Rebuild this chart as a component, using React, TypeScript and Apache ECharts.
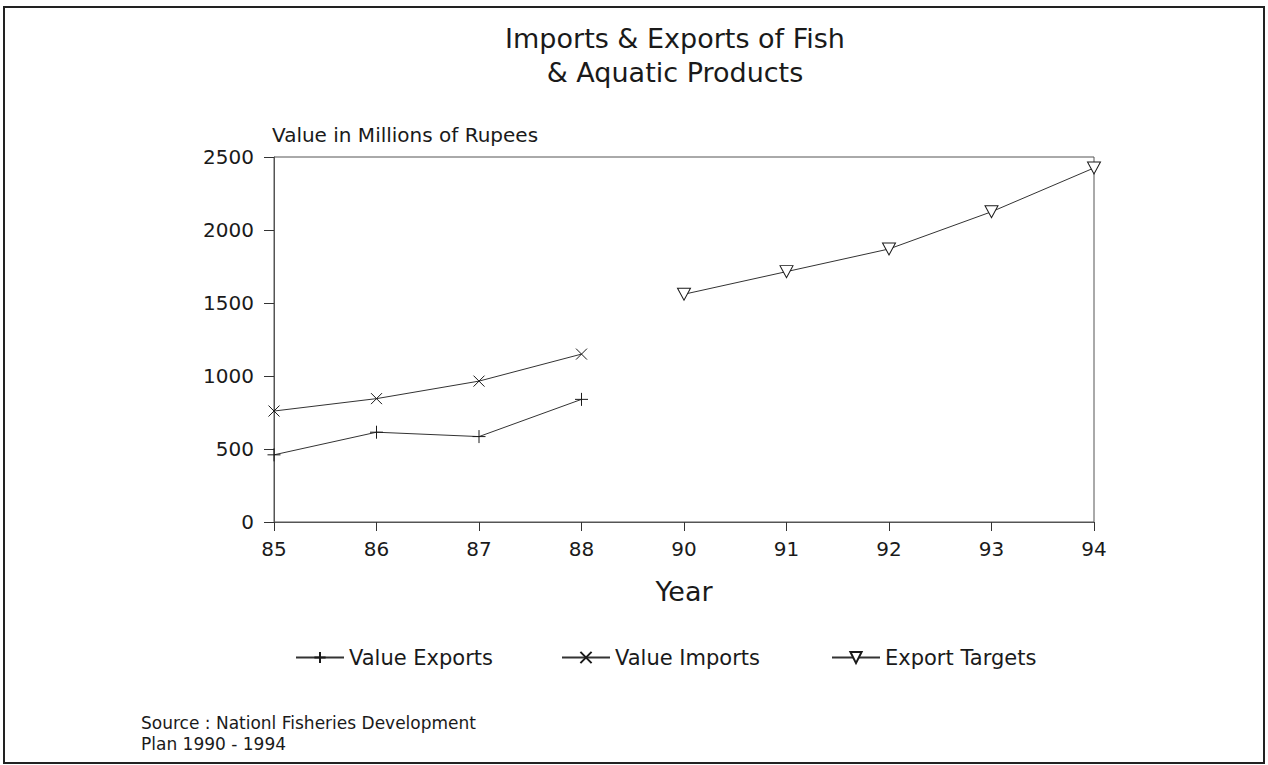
import React, { useEffect, useRef } from "react";
import * as echarts from "echarts";

const years = ["85", "86", "87", "88", "90", "91", "92", "93", "94"];
const valueExports = [460, 615, 585, 840, null, null, null, null, null];
const valueImports = [760, 845, 965, 1150, null, null, null, null, null];
const exportTargets = [null, null, null, null, 1560, 1715, 1870, 2125, 2425];
const seriesNames = ["Value Exports", "Value Imports", "Export Targets"];

const FONT = "DejaVu Sans";
const INK = "#1a1a1a";

export default function App() {
  const ref = useRef<HTMLDivElement>(null);
  useEffect(() => {
    if (!ref.current) return;
    const chart = echarts.init(ref.current, undefined, { renderer: "svg" });
    const sym = {
      itemStyle: { color: "#fff", borderColor: INK, borderWidth: 1 },
      lineStyle: { color: "#333", width: 1 },
    };
    const legendLefts = [290, 556, 826];
    chart.setOption({
      animation: false,
      backgroundColor: "#fff",
      textStyle: { fontFamily: FONT, color: INK },
      title: {
        text: "Imports & Exports of Fish\n& Aquatic Products",
        left: 670,
        textAlign: "center",
        top: 16,
        textStyle: { fontFamily: FONT, fontSize: 27, fontWeight: "normal", color: INK, lineHeight: 34 },
      },
      graphic: [
        {
          type: "rect",
          shape: { x: 4, y: 7, width: 1260, height: 756 },
          style: { fill: "none", stroke: "#222", lineWidth: 2 },
          silent: true,
        },
        {
          type: "text",
          left: 141,
          top: 712,
          style: {
            text: "Source : Nationl Fisheries Development\nPlan 1990 - 1994",
            font: `17px "${FONT}"`,
            fill: INK,
            lineHeight: 21,
          },
        },
      ],
      legend: seriesNames.map((n, i) => ({
        top: 642,
        left: legendLefts[i],
        itemWidth: 48,
        itemHeight: 14,
        textStyle: { fontFamily: FONT, fontSize: 21, color: INK },
        data: [n],
      })),
      grid: {
        left: 274,
        right: 174,
        top: 157,
        bottom: 243,
        show: true,
        borderColor: "#555",
        borderWidth: 1,
      },
      xAxis: {
        type: "category",
        data: years,
        boundaryGap: false,
        name: "Year",
        nameLocation: "middle",
        nameGap: 56,
        nameTextStyle: { fontFamily: FONT, fontSize: 27, color: INK },
        axisLine: { lineStyle: { color: "#555", width: 1 } },
        axisTick: { show: true, length: 9, inside: false, lineStyle: { color: "#333" } },
        axisLabel: { fontFamily: FONT, fontSize: 20, color: INK, margin: 17 },
        splitLine: { show: false },
      },
      yAxis: {
        type: "value",
        min: 0,
        max: 2500,
        interval: 500,
        name: "Value in Millions of Rupees",
        nameLocation: "end",
        nameGap: 12,
        nameTextStyle: { fontFamily: FONT, fontSize: 20, color: INK, align: "left", padding: [0, 0, 0, -2] },
        axisLine: { show: true, lineStyle: { color: "#555", width: 1 } },
        axisTick: { show: true, length: 10, lineStyle: { color: "#333" } },
        axisLabel: { fontFamily: FONT, fontSize: 20, color: INK, margin: 20, formatter: (v: number) => String(v) },
        splitLine: { show: false },
      },
      series: [
        {
          name: seriesNames[0],
          type: "line",
          data: valueExports,
          symbol: "path://M5,0 L5,10 M0,5 L10,5",
          symbolSize: 13,
          ...sym,
        },
        {
          name: seriesNames[1],
          type: "line",
          data: valueImports,
          symbol: "path://M0,0 L10,10 M10,0 L0,10",
          symbolSize: 11,
          ...sym,
        },
        {
          name: seriesNames[2],
          type: "line",
          data: exportTargets,
          symbol: "path://M0,0 L10,0 L5,10 Z",
          symbolSize: [13, 12],
          ...sym,
        },
      ],
    });
    return () => chart.dispose();
  }, []);
  return <div ref={ref} style={{ width: 1268, height: 765, position: "absolute", left: 0, top: 0 }} />;
}
